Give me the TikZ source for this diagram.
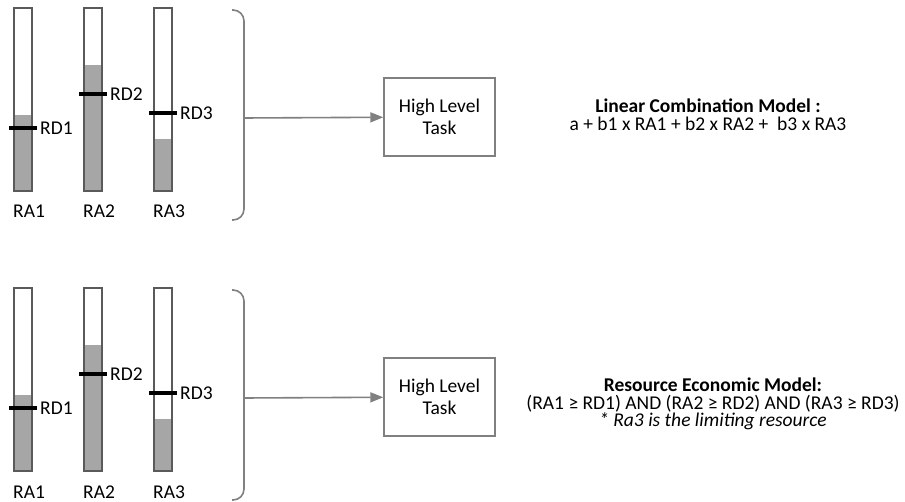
\documentclass[tikz,border=0pt]{standalone}
\usepackage{fontspec}
\setmainfont{Carlito}
\usetikzlibrary{positioning,arrows.meta}
\definecolor{bargray}{RGB}{166,166,166}
\definecolor{edgegray}{RGB}{90,90,90}
\definecolor{linegray}{RGB}{128,128,128}
\tikzset{
  barfill/.style={fill=bargray, draw=none},
  barbox/.style={draw=edgegray, line width=1.2pt},
  rdmark/.style={draw=black, line width=3.5pt},
  rdlbl/.style={anchor=west, inner sep=2pt, font=\fontsize{19.5}{22}\selectfont},
  ralbl/.style={anchor=base west, inner sep=0pt, font=\fontsize{19.5}{22}\selectfont},
  brace/.style={draw=linegray, line width=1.6pt, rounded corners=11pt},
  feed/.style={draw=linegray, line width=1.6pt, -{Triangle[length=13pt,width=10pt]}},
  taskbox/.style={draw=linegray, line width=1.4pt, align=center,
                  minimum width=111pt, minimum height=78pt,
                  font=\fontsize{19.5}{22}\selectfont},
  modeltxt/.style={align=center, font=\fontsize{19.5}{17.8}\selectfont},
}
% bar: x centre, top of fill, height of demand mark, panel offset
\newcommand{\resbar}[4]{%
  \draw[barfill] (#1-9,#2+#4) rectangle (#1+9,191+#4);
  \draw[barbox] (#1-9,8+#4) rectangle (#1+9,191+#4);
  \draw[rdmark] (#1-14,#3+#4) -- (#1+14,#3+#4);}
\newcommand{\BA}{23}
\newcommand{\BB}{93}
\newcommand{\BC}{163}
\begin{document}
\begin{tikzpicture}[x=1pt,y=-1pt]
  \useasboundingbox (0,0) rectangle (905,502);

  \foreach \off/\p in {0/a,280/b} {
    \resbar{\BA}{115}{128}{\off}
    \resbar{\BB}{65}{94}{\off}
    \resbar{\BC}{139}{113}{\off}

    \node[rdlbl] (rd1\p) at (\BA+15,128+\off) {RD1};
    \node[rdlbl] (rd2\p) at (\BB+15,94+\off) {RD2};
    \node[rdlbl] (rd3\p) at (\BC+15,113+\off) {RD3};

    \node[ralbl] (ra1\p) at (\BA-10,218+\off) {RA1};
    \node[ralbl] (ra2\p) at (\BB-10,218+\off) {RA2};
    \node[ralbl] (ra3\p) at (\BC-10,218+\off) {RA3};

    \draw[brace] (232,10+\off) -- (244,10+\off) -- (244,220+\off) -- (232,220+\off);
    \coordinate (br\p) at (244,118+\off);

    \node[taskbox] (task\p) at (439.5,117+\off) {High Level\\Task};
    \draw[feed] (br\p) -- (task\p);
  }

  \node[modeltxt] (linmodel) at (708,115) {\textbf{Linear Combination Model :}\\a + b1 x RA1 + b2 x RA2 +\ \ b3 x RA3};
  \node[modeltxt] (ecomodel) at (713,404) {\textbf{Resource Economic Model:}\\(RA1 ≥ RD1) AND (RA2 ≥ RD2) AND (RA3 ≥ RD3)\\\textit{* Ra3 is the limiting resource}};

\end{tikzpicture}
\end{document}
